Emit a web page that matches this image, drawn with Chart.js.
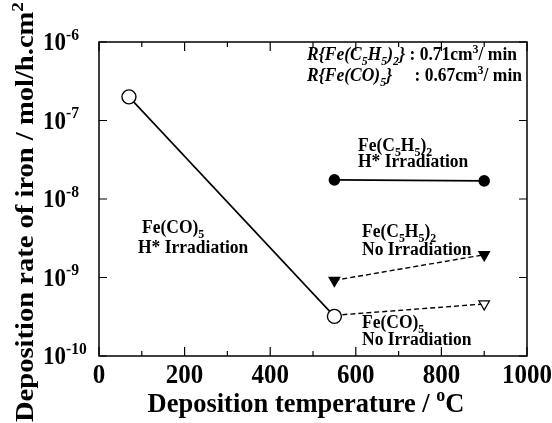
<!DOCTYPE html>
<html>
<head>
<meta charset="utf-8">
<script src="https://cdn.jsdelivr.net/npm/chart.js@4.4.1/dist/chart.umd.min.js"></script>
<style>
  html, body { margin: 0; padding: 0; background: #fff; }
  #wrap { width: 552px; height: 423px; }
</style>
</head>
<body>
<div id="wrap"><canvas id="c" width="552" height="423"></canvas></div>
<script>
// data
const coH_temp = [70, 550];
const coH_rate = [2.0e-7, 3.2e-10];
const cpH_temp = [550, 900];
const cpH_rate = [1.75e-8, 1.7e-8];
const cpNo_temp = [550, 900];
const cpNo_rate = [9.2e-10, 1.95e-9];
const coNo_temp = [550, 900];
const coNo_rate = [3.3e-10, 4.6e-10];

const xTicks = [0, 200, 400, 600, 800, 1000];
const xMinor = [100, 300, 500, 700, 900];
const yExps = [-10, -9, -8, -7, -6];

const FONT = '"Liberation Serif", "Times New Roman", serif';
const SY = 1.12; // the scan is a bit taller than wide

const pts = (xs, ys) => xs.map((x, i) => ({ x: x, y: ys[i] }));

// draws a run of text pieces; k = 'sub' | 'sup', it = italic
function drawRuns(ctx, x, y, parts, size, align, sy) {
  sy = sy || SY;
  const fontFor = (p) => (p.it ? 'italic ' : '') + 'bold ' + (p.k ? size * 0.68 : size).toFixed(1) + 'px ' + FONT;
  let total = 0;
  parts.forEach(p => { ctx.font = fontFor(p); total += ctx.measureText(p.t).width; });
  let cx = align === 'center' ? -total / 2 : 0;
  ctx.save();
  ctx.translate(x, y);
  ctx.scale(1, sy);
  ctx.textAlign = 'left';
  ctx.textBaseline = 'alphabetic';
  ctx.fillStyle = '#000';
  parts.forEach(p => {
    ctx.font = fontFor(p);
    let dy = 0;
    if (p.k === 'sub') dy = size * 0.25;
    if (p.k === 'sup') dy = -size * 0.4;
    ctx.fillText(p.t, cx, dy);
    cx += ctx.measureText(p.t).width;
  });
  ctx.restore();
  return total;
}

const framePlugin = {
  id: 'frame',
  beforeDatasetsDraw(chart) {
    const { ctx, chartArea: a, scales } = chart;
    ctx.save();
    ctx.strokeStyle = '#000';
    ctx.lineWidth = 1.5;
    ctx.strokeRect(a.left, a.top, a.right - a.left, a.bottom - a.top);
    ctx.lineWidth = 1.2;
    ctx.beginPath();
    xTicks.forEach(v => {
      const px = scales.x.getPixelForValue(v);
      ctx.moveTo(px, a.bottom); ctx.lineTo(px, a.bottom - 9);
      ctx.moveTo(px, a.top); ctx.lineTo(px, a.top + 9);
    });
    xMinor.forEach(v => {
      const px = scales.x.getPixelForValue(v);
      ctx.moveTo(px, a.bottom); ctx.lineTo(px, a.bottom - 5);
      ctx.moveTo(px, a.top); ctx.lineTo(px, a.top + 5);
    });
    yExps.forEach(e => {
      const py = scales.y.getPixelForValue(Math.pow(10, e));
      ctx.moveTo(a.left, py); ctx.lineTo(a.left + 8, py);
      ctx.moveTo(a.right, py); ctx.lineTo(a.right - 8, py);
    });
    ctx.stroke();
    ctx.restore();
  },
  afterDraw(chart) {
    const { ctx, chartArea: a, scales } = chart;
    // tick labels
    xTicks.forEach(v => {
      drawRuns(ctx, scales.x.getPixelForValue(v), a.bottom + 27, [{ t: String(v) }], 25, 'center');
    });
    yExps.forEach(e => {
      const py = scales.y.getPixelForValue(Math.pow(10, e));
      drawRuns(ctx, 43, py + 8, [{ t: '10' }, { t: '-' + Math.abs(e), k: 'sup' }], 23);
    });
    // axis titles
    drawRuns(ctx, 306, 412, [{ t: 'Deposition temperature / ' }, { t: 'o', k: 'sup' }, { t: 'C' }], 26.5, 'center', 1.04);
    ctx.save();
    ctx.translate(33, 212);
    ctx.rotate(-Math.PI / 2);
    ctx.scale(SY, 1 / SY);
    drawRuns(ctx, 0, 0, [{ t: 'Deposition rate of iron / mol/h.cm' }, { t: '2', k: 'sup' }], 25.5, 'center');
    ctx.restore();
    // annotations
    const s = 17.5;
    let w = drawRuns(ctx, 307, 60, [
      { t: 'R{Fe(C', it: true }, { t: '5', k: 'sub', it: true }, { t: 'H', it: true },
      { t: '5', k: 'sub', it: true }, { t: ')', it: true }, { t: '2', k: 'sub', it: true }, { t: '}', it: true }
    ], s, null, 1.05);
    drawRuns(ctx, 307 + w, 60, [{ t: ' : 0.71cm' }, { t: '3', k: 'sup' }, { t: '/ min' }], s, null, 1.05);
    drawRuns(ctx, 307, 81, [
      { t: 'R{Fe(CO)', it: true }, { t: '5', k: 'sub', it: true }, { t: '}', it: true }
    ], s, null, 1.05);
    drawRuns(ctx, 307 + w + 5, 81, [{ t: ' : 0.67cm' }, { t: '3', k: 'sup' }, { t: '/ min' }], s, null, 1.05);

    const fcp = [{ t: 'Fe(C' }, { t: '5', k: 'sub' }, { t: 'H' }, { t: '5', k: 'sub' }, { t: ')' }, { t: '2', k: 'sub' }];
    const fco = [{ t: 'Fe(CO)' }, { t: '5', k: 'sub' }];
    drawRuns(ctx, 358, 151, fcp, s, null, 1.05);
    drawRuns(ctx, 358, 167, [{ t: 'H* Irradiation' }], s, null, 1.05);
    drawRuns(ctx, 142, 233, fco, s, null, 1.05);
    drawRuns(ctx, 138, 253, [{ t: 'H* Irradiation' }], s, null, 1.05);
    drawRuns(ctx, 362, 237, fcp, s, null, 1.05);
    drawRuns(ctx, 362, 255, [{ t: 'No Irradiation' }], s, null, 1.05);
    drawRuns(ctx, 362, 328, fco, s, null, 1.05);
    drawRuns(ctx, 362, 345, [{ t: 'No Irradiation' }], s, null, 1.05);
  }
};

new Chart(document.getElementById('c'), {
  type: 'scatter',
  data: {
    datasets: [
      {
        label: 'Fe(CO)5 H* Irradiation',
        data: pts(coH_temp, coH_rate),
        showLine: true, borderColor: '#000', borderWidth: 1.6,
        pointStyle: 'circle', pointRadius: 7, pointBorderWidth: 1.4,
        pointBackgroundColor: '#fff', pointBorderColor: '#000'
      },
      {
        label: 'Fe(C5H5)2 H* Irradiation',
        data: pts(cpH_temp, cpH_rate),
        showLine: true, borderColor: '#000', borderWidth: 1.6,
        pointStyle: 'circle', pointRadius: 5,
        pointBackgroundColor: '#000', pointBorderColor: '#000'
      },
      {
        label: 'Fe(C5H5)2 No Irradiation',
        data: pts(cpNo_temp, cpNo_rate),
        showLine: true, borderColor: '#000', borderWidth: 1.4, borderDash: [5, 3],
        pointStyle: 'triangle', pointRotation: 180, pointRadius: 6,
        pointBackgroundColor: '#000', pointBorderColor: '#000'
      },
      {
        label: 'Fe(CO)5 No Irradiation',
        data: pts(coNo_temp, coNo_rate),
        showLine: true, borderColor: '#000', borderWidth: 1.4, borderDash: [5, 3],
        pointStyle: 'triangle', pointRotation: 180, pointRadius: [4.5, 6], pointBorderWidth: 1.3,
        pointBackgroundColor: '#fff', pointBorderColor: '#000'
      }
    ]
  },
  options: {
    responsive: false,
    animation: false,
    layout: { padding: { left: 99, top: 42, right: 25, bottom: 67 } },
    plugins: { legend: { display: false }, tooltip: { enabled: false } },
    scales: {
      x: { type: 'linear', min: 0, max: 1000, display: false },
      y: { type: 'logarithmic', min: 1e-10, max: 1e-6, display: false }
    }
  },
  plugins: [framePlugin]
});
</script>
</body>
</html>
